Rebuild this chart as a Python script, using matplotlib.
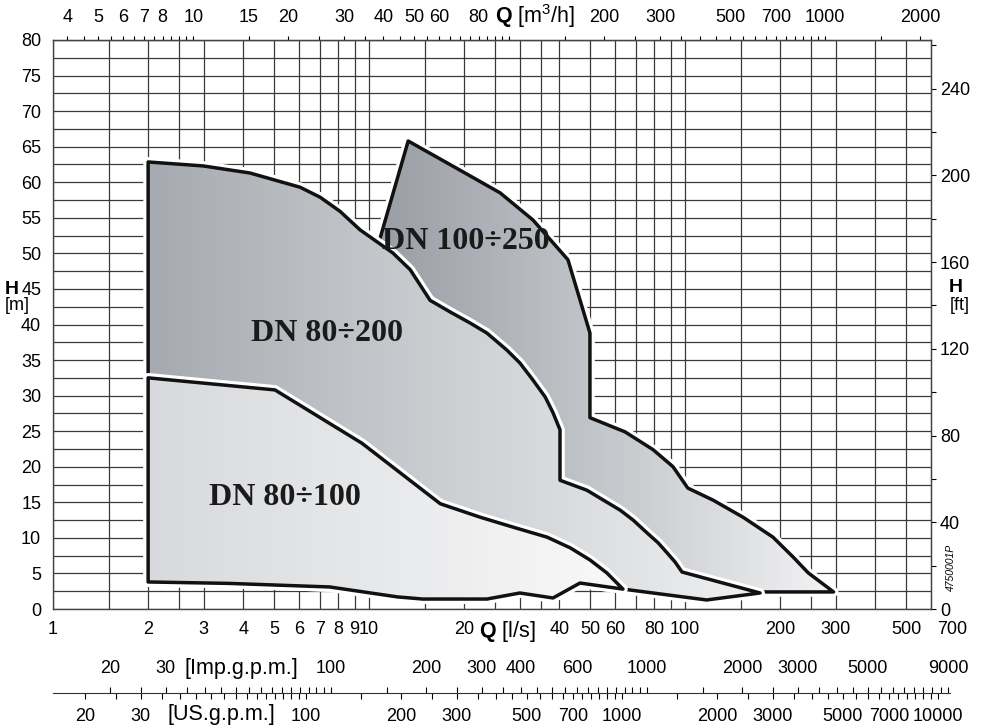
import numpy as np
import matplotlib.pyplot as plt
from matplotlib.patches import Polygon
from matplotlib.colors import LinearSegmentedColormap
from matplotlib.ticker import NullFormatter, NullLocator

plt.rcParams['font.family'] = ['Liberation Sans', 'DejaVu Sans']
plt.rcParams['mathtext.fontset'] = 'custom'
plt.rcParams['mathtext.rm'] = 'Liberation Sans'
plt.rcParams['mathtext.bf'] = 'Liberation Sans:bold'

# --- pump ranges: Q in l/s, H in m ---
q_100_250 = [10.8, 13.3, 19.4, 26.0, 33.0, 42.6, 50.0, 50.0, 64.6, 79.2, 91.6, 102, 122.7,
             152.6, 189.7, 219.8, 245, 295, 179, 150, 100, 40, 10.8]
h_100_250 = [51.9, 65.8, 61.7, 58.5, 54.7, 49.1, 38.8, 26.9, 24.9, 22.4, 20.0, 17.0, 15.3,
             12.9, 10.1, 7.3, 5.1, 2.4, 2.4, 2.6, 3.0, 10.0, 45.0]

q_80_200 = [2.0, 2.98, 4.2, 6.05, 7.0, 8.1, 9.37, 11.9, 13.5, 15.6, 18.0, 20.9, 23.6, 27.3,
            30.0, 33.0, 36.1, 38.2, 40.2, 40.2, 48.9, 62.3, 68.5, 75.8, 82.2, 87.7, 93.0, 97.8,
            172.7, 117, 63.6, 46.5, 38.2, 30.0, 23.6, 14.8, 12.3, 7.5, 3.6, 2.0]
h_80_200 = [62.85, 62.3, 61.3, 59.3, 57.9, 55.9, 53.3, 50.05, 47.7, 43.4, 41.8, 40.2, 38.8, 36.4,
            34.6, 32.2, 29.8, 27.6, 25.2, 18.1, 16.7, 13.9, 12.5, 10.7, 9.3, 7.9, 6.6, 5.2,
            2.25, 1.27, 2.8, 3.65, 1.55, 2.25, 1.4, 1.4, 1.7, 3.1, 3.6, 3.8]

q_80_100 = [2.0, 5.04, 9.5, 16.8, 22.5, 28.6, 36.6, 43.3, 50.0, 56.6, 63.6, 46.5, 38.2, 30.0,
            23.6, 14.8, 12.3, 7.5, 3.6, 2.0]
h_80_100 = [32.5, 30.8, 23.3, 14.8, 12.9, 11.5, 10.1, 8.6, 6.9, 5.06, 2.8, 3.65, 1.55, 2.25,
            1.4, 1.4, 1.7, 3.1, 3.6, 3.8]

labels_dn = ['DN 100÷250', 'DN 80÷200', 'DN 80÷100']
label_q = [20.3, 7.36, 5.42]
label_h = [51.6, 38.8, 15.7]

# --- scales ---
grid_q = [1, 1.5, 2, 2.5, 3, 4, 5, 6, 7, 8, 9, 10, 15, 20, 25, 30, 35, 40, 50, 60, 70, 80, 90,
          100, 150, 200, 250, 300, 400, 500]
ls_labels = [1, 2, 3, 4, 5, 6, 7, 8, 9, 10, 20, 40, 50, 60, 80, 100, 200, 300, 500]

m3h_labels = [4, 5, 6, 7, 8, 10, 15, 20, 30, 40, 50, 60, 80, 200, 300, 500, 700, 1000, 2000]
m3h_ticks = list(np.arange(4, 10.01, 0.5)) + [15] + list(range(20, 101, 5)) + [150] + \
    list(range(200, 1001, 50)) + [1500, 2000]

imp_labels = [20, 30, 100, 200, 300, 400, 600, 1000, 2000, 3000, 5000, 9000]
imp_ticks = list(range(20, 101, 5)) + list(range(150, 1001, 50)) + list(range(1500, 9001, 500))
us_labels = [20, 30, 100, 200, 300, 500, 700, 1000, 2000, 3000, 5000, 7000, 10000]
us_ticks = list(range(20, 101, 5)) + list(range(150, 1001, 50)) + list(range(1500, 10001, 500))

ft_labels = [0, 40, 80, 120, 160, 200, 240]
ft_minor = [20, 60, 100, 140, 180, 220, 260]

US_GPM = 0.0630902   # l/s per US gpm
IMP_GPM = 0.0757682  # l/s per Imp gpm

W, H = 981, 726
fig = plt.figure(figsize=(W / 100, H / 100), dpi=100)
ax = fig.add_axes([53 / W, 1 - 609 / H, 878 / W, 569 / H])
ax.set_xscale('log')
ax.set_xlim(1, 600)
ax.set_ylim(0, 80)
ax.autoscale(False)

fs = 13
big = 15.5
ax.set_xticks(grid_q, labels=[(str(q) if q in ls_labels else '') for q in grid_q])
ax.xaxis.set_minor_locator(NullLocator())
ax.set_yticks(range(0, 81, 5))
ax.set_yticks(np.arange(2.5, 80, 5), minor=True)
ax.tick_params(axis='x', which='both', length=0, pad=8.5, labelsize=fs)
ax.tick_params(axis='y', which='both', length=0, pad=8.5, labelsize=fs)
ax.grid(which='both', color='#3a3a3a', lw=0.9)
ax.set_axisbelow(True)
for s in ax.spines.values():
    s.set_color('#444444')
    s.set_linewidth(1.0)

ax.annotate('700', xy=(700, 0), xycoords=('data', 'axes fraction'), xytext=(0, -8.5),
            textcoords='offset points', ha='center', va='top', fontsize=fs, annotation_clip=False)
ax.annotate(r'$\mathbf{Q}$ [l/s]', xy=(27.3, 0), xycoords=('data', 'axes fraction'),
            xytext=(0, -7), textcoords='offset points', ha='center', va='top', fontsize=big)

# top axis in m3/h
top = ax.secondary_xaxis('top', functions=(lambda q: q * 3.6, lambda q: q / 3.6))
top.set_xticks(m3h_labels, labels=[str(v) for v in m3h_labels])
top.set_xticks(m3h_ticks, minor=True)
top.xaxis.set_minor_formatter(NullFormatter())
top.tick_params(which='both', direction='out', length=3, width=0.8, pad=7, labelsize=fs)
ax.annotate(r'$\mathbf{Q}$ [m$^3$/h]', xy=(33.5, 1), xycoords=('data', 'axes fraction'),
            xytext=(0, 12.5), textcoords='offset points', ha='center', va='baseline',
            fontsize=big)

# right axis in ft
right = ax.secondary_yaxis('right', functions=(lambda m: m / 0.3048, lambda f: f * 0.3048))
right.set_yticks(ft_labels, labels=[str(v) for v in ft_labels])
right.set_yticks(ft_minor, minor=True)
right.yaxis.set_minor_formatter(NullFormatter())
right.tick_params(which='both', direction='out', length=3.5, width=0.8, pad=3, labelsize=fs)

fig.text(12 / W, 1 - 289 / H, 'H', fontsize=14, weight='bold', ha='center', va='center')
fig.text(17 / W, 1 - 306 / H, '[m]', fontsize=fs, ha='center', va='center')
fig.text(956 / W, 1 - 287 / H, 'H', fontsize=14, weight='bold', ha='center', va='center')
fig.text(960 / W, 1 - 305 / H, '[ft]', fontsize=fs, ha='center', va='center')
fig.text(951 / W, 1 - 567 / H, '4750001P', fontsize=7.5, style='italic', rotation=90,
         ha='center', va='center')

# gpm scales
q_end = 10 ** ((950 - 53) / 316)
gpm = fig.add_axes([53 / W, 1 - 693 / H, 897 / W, 0.0001])
gpm.set_xscale('log')
gpm.set_xlim(1 / US_GPM, q_end / US_GPM)
gpm.set_yticks([])
gpm.patch.set_visible(False)
for k in ['left', 'right', 'top']:
    gpm.spines[k].set_visible(False)
gpm.spines['bottom'].set_color('#333333')
gpm.set_xticks(us_labels, labels=[str(v) for v in us_labels])
gpm.set_xticks(us_ticks, minor=True)
gpm.xaxis.set_minor_formatter(NullFormatter())
gpm.tick_params(which='both', direction='out', length=4, width=0.8, pad=7, labelsize=fs)
r = US_GPM / IMP_GPM
imp = gpm.secondary_xaxis('top', functions=(lambda u: u * r, lambda i: i / r))
imp.spines['top'].set_visible(False)
imp.set_xticks(imp_labels, labels=[str(v) for v in imp_labels])
imp.set_xticks(imp_ticks, minor=True)
imp.xaxis.set_minor_formatter(NullFormatter())
imp.tick_params(which='both', direction='out', length=4, width=0.8, pad=7.5, labelsize=fs)
gpm.annotate('[US.g.p.m.]', xy=(53.9, 0), xycoords=('data', 'axes fraction'), xytext=(0, -8),
             textcoords='offset points', ha='center', va='top', fontsize=big)
gpm.annotate('[Imp.g.p.m.]', xy=(62.7, 1), xycoords=('data', 'axes fraction'), xytext=(0, 10),
             textcoords='offset points', ha='center', va='bottom', fontsize=big)


def draw_range(q, h, colors, z):
    pts = np.column_stack([q, h])
    halo = Polygon(pts, closed=True, facecolor='none', edgecolor='white', lw=7,
                   joinstyle='round', zorder=z)
    edge = Polygon(pts, closed=True, facecolor='none', edgecolor='#111111', lw=2.5,
                   joinstyle='round', zorder=z + 0.2)
    ax.add_patch(halo)
    ax.add_patch(edge)
    tr = ax.transData + ax.transAxes.inverted()
    x0 = tr.transform((min(q), 1))[0]
    x1 = tr.transform((max(q), 1))[0]
    cmap = LinearSegmentedColormap.from_list('g', colors)
    im = ax.imshow(np.linspace(0, 1, 256).reshape(1, -1), cmap=cmap, extent=(x0, x1, 0, 1),
                   transform=ax.transAxes, aspect='auto', zorder=z + 0.1,
                   interpolation='bilinear')
    im.set_clip_path(edge)


draw_range(q_100_250, h_100_250, ['#9a9ea5', '#c4c7cb', '#f3f3f4'], 2)
draw_range(q_80_200, h_80_200, ['#a6a9af', '#cdd0d3', '#eff0f1'], 3)
draw_range(q_80_100, h_80_100, ['#d7d9dc', '#f9f9f9'], 4)

for t, xq, yh in zip(labels_dn, label_q, label_h):
    ax.text(xq, yh, t, family=['Liberation Serif', 'DejaVu Serif'], weight='bold', fontsize=23,
            ha='center', va='center', color='#1a1a1a', zorder=10)

ax.set_xlim(1, 600)
ax.set_ylim(0, 80)
fig.savefig('out.png', dpi=100)
